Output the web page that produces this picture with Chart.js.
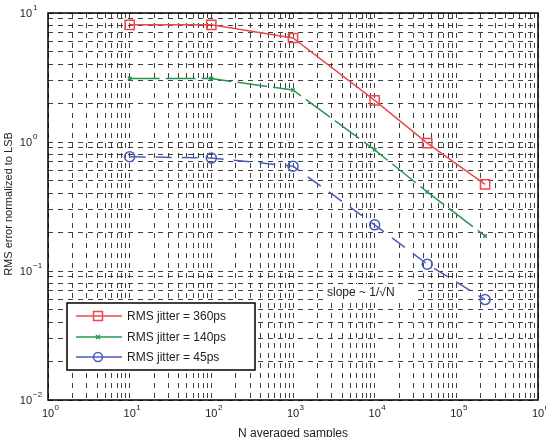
<!DOCTYPE html>
<html>
<head>
<meta charset="utf-8">
<script src="https://cdn.jsdelivr.net/npm/chart.js@4"></script>
<style>
  html, body { margin: 0; padding: 0; background: #fff; }
  #wrap { width: 546px; height: 437px; }
</style>
</head>
<body>
<div id="wrap"><canvas id="jitterChart" width="546" height="437"></canvas></div>
<script>
// ========== DADOS ==========
const nAmostras = [10, 100, 1000, 10000, 44000, 225000];
const jitter360 = [8.1, 8.1, 6.4, 2.1, 0.98, 0.47];
const jitter140 = [3.1, 3.1, 2.53, 0.87, 0.41, 0.187];
const jitter45 = [0.77, 0.75, 0.65, 0.228, 0.113, 0.06];

const legendas = ["RMS jitter = 360ps", "RMS jitter = 140ps", "RMS jitter = 45ps"];
const expoentesX = [0, 1, 2, 3, 4, 5, 6];
const expoentesY = [-2, -1, 0, 1];

const FONTE = '"Liberation Sans", Arial, sans-serif';
const VERMELHO = "rgb(236,72,78)";
const VERDE = "rgb(38,150,82)";
const AZUL = "rgb(72,92,190)";

// ticks de grade: 1..9 x 10^k
function ticksLog(expoentes) {
  const ticks = [];
  for (let i = 0; i < expoentes.length; i++) {
    const base = Math.pow(10, expoentes[i]);
    ticks.push({ value: base, major: true });
    if (i < expoentes.length - 1) {
      for (let m = 2; m <= 9; m++) ticks.push({ value: m * base });
    }
  }
  return ticks;
}

function pontos(ys) {
  return nAmostras.map((x, i) => ({ x: x, y: ys[i] }));
}

// ========== TEXTOS, MOLDURA E LEGENDA ==========
const extrasPlugin = {
  id: "extras",
  afterDraw(chart) {
    const ctx = chart.ctx;
    const xs = chart.scales.x;
    const ys = chart.scales.y;
    const a = chart.chartArea;
    ctx.save();

    // moldura
    ctx.strokeStyle = "#000";
    ctx.lineWidth = 1.5;
    ctx.strokeRect(a.left, a.top, a.right - a.left, a.bottom - a.top);

    ctx.fillStyle = "#222";
    ctx.textBaseline = "middle";

    // rótulos do eixo x
    expoentesX.forEach((k) => {
      const px = xs.getPixelForValue(Math.pow(10, k));
      ctx.font = "11px " + FONTE;
      const w = ctx.measureText("10").width;
      ctx.textAlign = "center";
      ctx.fillText("10", px, 414);
      ctx.font = "8px " + FONTE;
      ctx.textAlign = "left";
      ctx.fillText(String(k), px + w / 2 + 0.5, 408);
    });

    // rótulos do eixo y
    expoentesY.forEach((k) => {
      const py = ys.getPixelForValue(Math.pow(10, k));
      ctx.font = "11px " + FONTE;
      ctx.textAlign = "right";
      ctx.fillText("10", 32, py + 1);
      ctx.font = "8px " + FONTE;
      ctx.textAlign = "left";
      ctx.fillText(String(k).replace("-", "\u2212"), 33, py - 5);
    });

    // títulos dos eixos
    ctx.font = "12px " + FONTE;
    ctx.textAlign = "center";
    ctx.textBaseline = "top";
    ctx.fillText("N averaged samples", (a.left + a.right) / 2, 428);

    ctx.save();
    ctx.translate(9, 204);
    ctx.rotate(-Math.PI / 2);
    ctx.font = "11px " + FONTE;
    ctx.textBaseline = "middle";
    ctx.fillText("RMS error normalized to LSB", 0, 0);
    ctx.restore();

    // anotação da inclinação
    ctx.fillStyle = "#fff";
    ctx.fillRect(323, 284, 92, 17);
    ctx.fillStyle = "#222";
    ctx.font = "12px " + FONTE;
    ctx.textAlign = "left";
    ctx.textBaseline = "middle";
    ctx.fillText("slope ~ 1/\u221AN", 327, 293);

    // legenda
    ctx.fillStyle = "#fff";
    ctx.fillRect(67, 303, 188, 67);
    ctx.strokeStyle = "#000";
    ctx.lineWidth = 1.5;
    ctx.strokeRect(67, 303, 188, 67);

    const cores = [VERMELHO, VERDE, AZUL];
    const linhasY = [316, 337, 357];
    cores.forEach((cor, i) => {
      const y = linhasY[i];
      ctx.strokeStyle = cor;
      ctx.lineWidth = 1.5;
      ctx.beginPath();
      ctx.moveTo(76, y);
      ctx.lineTo(122, y);
      ctx.stroke();
      ctx.beginPath();
      if (i === 0) {
        ctx.rect(93.5, y - 4.5, 9, 9);
      } else if (i === 1) {
        ctx.moveTo(96, y - 2); ctx.lineTo(100, y + 2);
        ctx.moveTo(100, y - 2); ctx.lineTo(96, y + 2);
      } else {
        ctx.arc(98, y, 4.5, 0, Math.PI * 2);
      }
      ctx.stroke();
      ctx.fillStyle = "#222";
      ctx.font = "12px " + FONTE;
      ctx.fillText(legendas[i], 127, y + 1);
    });

    ctx.restore();
  },
};

// ========== GRÁFICO ==========
function criarGrafico() {
  const ctx = document.getElementById("jitterChart").getContext("2d");

  const grade = {
    color: "rgba(30,30,30,0.85)",
    lineWidth: 1,
    drawTicks: false,
  };

  new Chart(ctx, {
    type: "line",
    data: {
      datasets: [
        {
          label: legendas[0],
          data: pontos(jitter360),
          borderColor: VERMELHO,
          borderWidth: 1.5,
          pointStyle: "rect",
          pointRadius: 6.5,
          pointBorderColor: VERMELHO,
          pointBackgroundColor: "rgba(0,0,0,0)",
          pointBorderWidth: 1.5,
        },
        {
          label: legendas[1],
          data: pontos(jitter140),
          borderColor: VERDE,
          borderWidth: 1.5,
          borderDash: [30, 6],
          pointStyle: "crossRot",
          pointRadius: 2.5,
          pointBorderColor: VERDE,
          pointBorderWidth: 1.5,
        },
        {
          label: legendas[2],
          data: pontos(jitter45),
          borderColor: AZUL,
          borderWidth: 1.5,
          borderDash: [16, 10],
          pointStyle: "circle",
          pointRadius: 5,
          pointBorderColor: AZUL,
          pointBackgroundColor: "rgba(0,0,0,0)",
          pointBorderWidth: 1.5,
        },
      ],
    },
    options: {
      responsive: false,
      animation: false,
      layout: { padding: { top: 13, right: 6, left: 0, bottom: 0 } },
      plugins: {
        legend: { display: false },
        tooltip: { enabled: false },
      },
      scales: {
        x: {
          type: "logarithmic",
          min: 1,
          max: 1e6,
          afterBuildTicks: (s) => { s.ticks = ticksLog(expoentesX); },
          afterFit: (s) => { s.height = 37; },
          ticks: { display: false },
          grid: grade,
          border: { display: false, dash: [5, 5] },
        },
        y: {
          type: "logarithmic",
          min: 0.01,
          max: 10,
          afterBuildTicks: (s) => { s.ticks = ticksLog(expoentesY); },
          afterFit: (s) => { s.width = 48; },
          ticks: { display: false },
          grid: grade,
          border: { display: false, dash: [5, 5] },
        },
      },
    },
    plugins: [extrasPlugin],
  });
}

// ========== INICIALIZAÇÃO ==========
document.addEventListener("DOMContentLoaded", function () {
  criarGrafico();
});
</script>
</body>
</html>
